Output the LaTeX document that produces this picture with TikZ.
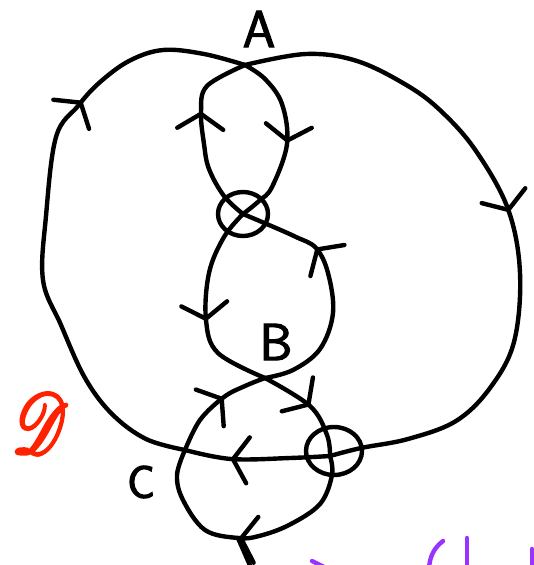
\documentclass[tikz,border=0pt]{standalone}
\usepackage{amsmath}
\usepackage{mathrsfs}
\usepackage{tikz}
\usetikzlibrary{arrows.meta, decorations.markings, shapes.geometric}

\definecolor{penred}{RGB}{255,34,0}
\definecolor{penviolet}{RGB}{153,51,255}
\newcommand{\heavytext}[2][0.35]{\special{pdf:literal direct 2 Tr #1 w}#2\special{pdf:literal direct 0 Tr}}

\begin{document}
\begin{tikzpicture}[
	x=1pt, y=-1pt,
	knot/.style={line width=4.4pt, line cap=round, line join=round},
	flow/.style={postaction={decorate}, decoration={markings,
			mark=at position #1 with {\arrow{Straight Barb[length=15pt, width=46pt, line width=4.4pt, round]}}}},
	ring/.style={draw, ellipse, line width=4.4pt, inner sep=0pt},
	lbl/.style={font=\sffamily\fontsize{52}{52}\selectfont, inner sep=0pt},
	]
	\useasboundingbox (0,0) rectangle (534,565);
	
	%% crossings
	\coordinate (A) at (245,65);
	\coordinate (X) at (243,214);
	\coordinate (B) at (265,378);
	\coordinate (O) at (330,456);
	\coordinate (C) at (185,450);
	\coordinate (tipC) at (238,538);
	\coordinate (tailC) at (252,570);
	
	%% outer loop
	\draw[knot, flow=0.48] plot[smooth, tension=0.6] coordinates {(A) (306,54) (357,61) (408,86) (442,112) (476,151) (508,209) (520,273) (514,342) (490,388) (456,421) (408,439) (361,448) (O)};
	\draw[knot, flow=0.68] plot[smooth, tension=0.6] coordinates {(O) (290,458) (231,459) (C)};
	\draw[knot, flow=0.70] plot[smooth, tension=0.6] coordinates {(C) (146,439) (112,414) (85,378) (61,325) (43,280) (46,216) (56,137) (78,106) (99,83) (129,61) (163,50) (204,54) (A)};
	
	%% inner strand
	\draw[knot, flow=0.52] plot[smooth, tension=0.6] coordinates {(A) (265,79) (282,104) (287,144) (272,187) (259,201) (X)};
	\draw[knot, flow=0.57] plot[smooth, tension=0.6] coordinates {(X) (224,237) (209,273) (206,320) (218,353) (B)};
	\draw[knot, flow=0.49] plot[smooth, tension=0.6] coordinates {(B) (310,406) (327,435) (O)};
	\draw[knot, flow=0.53] plot[smooth, tension=0.6] coordinates {(O) (332,475) (320,504) (289,525) (259,536) (tipC) (205,530) (183,500) (177,475) (C)};
	\draw[knot] (tipC) -- (tailC);
	\draw[knot, flow=0.59] plot[smooth, tension=0.6] coordinates {(C) (200,420) (224,397) (245,386) (B)};
	\draw[knot, flow=0.68] plot[smooth, tension=0.6] coordinates {(B) (293,370) (320,349) (333,313) (328,273) (316,248) (296,237) (269,225) (X)};
	\draw[knot, flow=0.62] plot[smooth, tension=0.6] coordinates {(X) (224,196) (209,169) (204,144) (201,112) (207,86) (A)};
	
	%% marked crossings
	\node[ring, minimum width=50pt, minimum height=44pt] (ringX) at (243,214) {};
	\node[ring, minimum width=56pt, minimum height=48pt] (ringO) at (334,451) {};
	
	%% labels
	\node[lbl] (labA) at (259,29) {\heavytext[1.2]{A}};
	\node[lbl] (labB) at (276,342) {\heavytext[1.2]{B}};
	\node[lbl, font=\sffamily\fontsize{46}{46}\selectfont] (labC) at (141,482) {\heavytext[1.2]{C}};
	\node[text=penred, inner sep=0pt, xscale=6.5, yscale=8.5] (labD) at (40,423) {\heavytext{$\mathscr{D}$}};
	
	%% cut-off strokes at the bottom edge
	\draw[knot, penviolet] (312,561) -- (324,567);
	\draw[knot, penviolet] (443,541) .. controls (434,548) and (430,556) .. (429,568);
	\draw[knot, penviolet] (467,538) -- (467,568);
	\draw[knot, penviolet] (532,549) -- (532,568);
	
\end{tikzpicture}
\end{document}
